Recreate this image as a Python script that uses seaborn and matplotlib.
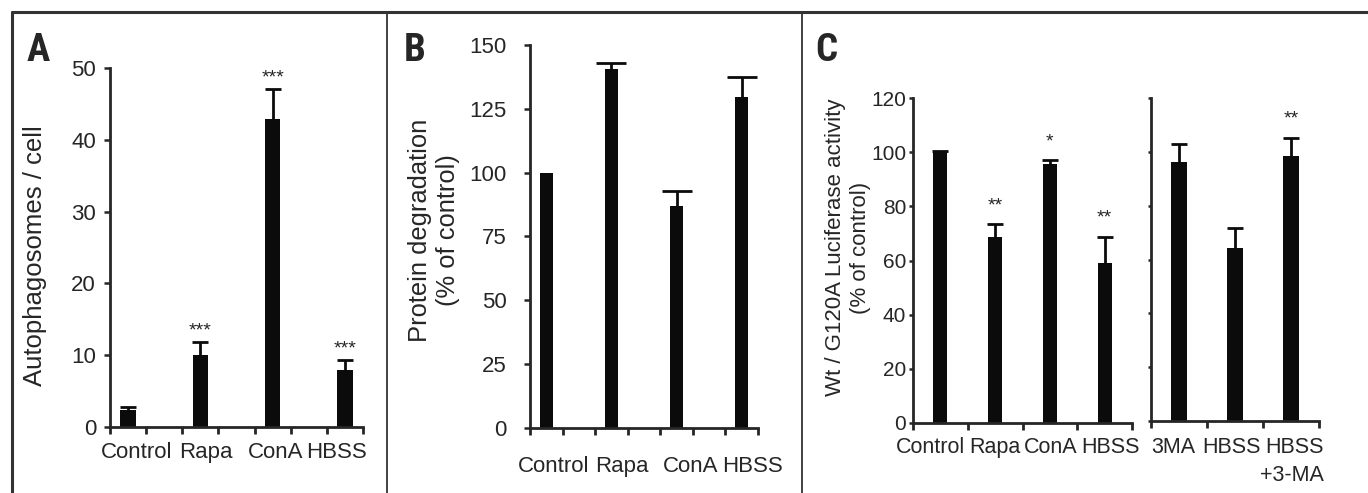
import os
import numpy as np
import pandas as pd
import matplotlib
matplotlib.use("Agg")
import matplotlib.pyplot as plt
from matplotlib import font_manager
from matplotlib.lines import Line2D
from matplotlib.ticker import FixedLocator
from matplotlib.transforms import blended_transform_factory, ScaledTranslation
import seaborn as sns

# Panel A: autophagosomes per cell
a_labels = ["Control", "Rapa", "ConA", "HBSS"]
a_values = [2.3, 10.0, 42.9, 8.0]
a_err = [0.5, 1.8, 4.2, 1.3]
a_stars = ["", "***", "***", "***"]

# Panel B: protein degradation
b_labels = ["Control", "Rapa", "ConA", "HBSS"]
b_values = [100.0, 140.5, 87.0, 129.5]
b_err = [0.0, 2.3, 5.9, 8.1]
b_stars = ["", "", "", ""]

# Panel C: luciferase activity
c1_labels = ["Control", "Rapa", "ConA", "HBSS"]
c1_values = [100.0, 68.6, 95.7, 59.0]
c1_err = [0.4, 4.9, 1.4, 9.8]
c1_stars = ["", "**", "*", "**"]

c2_labels = ["3MA", "HBSS", "HBSS\n+3-MA"]
c2_values = [96.1, 64.4, 98.3]
c2_err = [6.9, 7.4, 7.0]
c2_stars = ["", "", "**"]

sns.set_theme(style="ticks")
plt.rcParams["font.family"] = ["Liberation Sans", "DejaVu Sans"]
plt.rcParams["axes.linewidth"] = 2.0

BAR = "#0b0b0b"
W, H = 1368, 493

# narrow bold face for the panel letters, if one is installed
letter_font = font_manager.FontProperties(family="DejaVu Sans", weight="bold",
                                          stretch="condensed")
files = font_manager.findSystemFonts()
for key in ("LiberationSansNarrow-Bold.", "RobotoCondensed-Bold.",
            "DejaVuSansCondensed-Bold."):
    hits = [f for f in files if os.path.basename(f).startswith(key)]
    if hits:
        letter_font = font_manager.FontProperties(fname=hits[0])
        break

fig = plt.figure(figsize=(W / 100, H / 100), dpi=100)


def box(l, t, r, b):
    # pixel box -> figure fraction rect
    return [l / W, 1 - b / H, (r - l) / W, (b - t) / H]


def panel(ax, labels, values, err, stars, width, bounds, ylim, yticks,
          ypad, ysize, capsize=5.5, star_off=3, show_ylabels=True, ylen=4):
    df = pd.DataFrame({"group": labels, "value": values})
    sns.barplot(data=df, x="group", y="value", ax=ax, color=BAR,
                width=width, saturation=1, errorbar=None, linewidth=0)
    n = len(values)
    x = np.arange(n)
    err = np.array(err)
    m = err > 0
    eb = ax.errorbar(x[m], np.array(values)[m],
                     yerr=[np.zeros(m.sum()), err[m]],
                     fmt="none", ecolor=BAR, elinewidth=2.0, capsize=capsize,
                     capthick=2.0)
    # only the upper cap is shown
    eb.lines[1][0].set_visible(False)
    for xi, v, e, s in zip(x, values, err, stars):
        if s:
            ax.annotate(s, (xi, v + e), xytext=(0, star_off),
                        textcoords="offset points",
                        ha="center", va="bottom", fontsize=14)
    ax.set_xlim(bounds[0], bounds[-1])
    ax.set_ylim(*ylim)
    ax.set_yticks(yticks)
    if not show_ylabels:
        ax.set_yticklabels([])
    ax.set_xticks(x)
    ax.set_xticklabels([])
    ax.xaxis.set_minor_locator(FixedLocator(bounds))
    ax.tick_params(axis="x", which="major", length=0)
    ax.tick_params(axis="x", which="minor", length=5, width=2.0, direction="out")
    ax.tick_params(axis="y", length=ylen, width=1.8, pad=ypad, labelsize=ysize)
    ax.set_xlabel("")
    ax.set_ylabel("")
    sns.despine(ax=ax)


def xlabels(ax, labels, shifts, below, size, linespacing=1.2):
    # group names under the bars, cap tops `below` px under the axis
    base = blended_transform_factory(ax.transData, ax.transAxes)
    for i, (lab, dx) in enumerate(zip(labels, shifts)):
        tr = base + ScaledTranslation(dx / 100, -below / 100, fig.dpi_scale_trans)
        ax.text(i, 0, lab, transform=tr, ha="center", va="top",
                fontsize=size, multialignment="right", linespacing=linespacing)


# A
axA = fig.add_axes(box(110, 68, 363, 427))
panel(axA, a_labels, a_values, a_err, a_stars, 0.21,
      np.arange(-0.25, 3.26, 0.5), (0, 50), range(0, 51, 10), 6, 16,
      capsize=6, star_off=2)
xlabels(axA, a_labels, [9, 6, 3, -8], 15, 16)
axA.set_ylabel("Autophagosomes / cell", fontsize=18.5)
axA.yaxis.set_label_coords(-0.25, 0.478)

# B
axB = fig.add_axes(box(530, 45, 758, 428))
panel(axB, b_labels, b_values, b_err, b_stars, 0.20,
      np.arange(-0.25, 3.26, 0.5), (0, 150), range(0, 151, 25), 13, 16,
      capsize=11)
xlabels(axB, b_labels, [7, 10, 14, 11], 28, 16)
axB.set_ylabel("Protein degradation\n(% of control)", fontsize=18.4,
               linespacing=1.2)
axB.yaxis.set_label_coords(-0.307, 0.517)

# C
axC1 = fig.add_axes(box(913, 98, 1132, 423))
panel(axC1, c1_labels, c1_values, c1_err, c1_stars, 0.26,
      np.arange(-0.5, 3.6, 1.0), (0, 120), range(0, 121, 20), 2, 15,
      capsize=5.5, star_off=7, ylen=3)
xlabels(axC1, c1_labels, [-10, 0, 1, 6], 14, 15.5)
axC1.set_ylabel("Wt / G120A Luciferase activity\n(% of control)", fontsize=16,
                linespacing=1.3)
axC1.yaxis.set_label_coords(-0.19, 0.54)

axC2 = fig.add_axes(box(1151, 98, 1319, 421))
panel(axC2, c2_labels, c2_values, c2_err, c2_stars, 0.27,
      np.arange(-0.5, 2.6, 1.0), (0, 120), range(0, 121, 20), 2, 15,
      capsize=5.5, star_off=7, show_ylabels=False, ylen=2.5)
xlabels(axC2, c2_labels, [-6, -4, 1], 16, 15.5, linespacing=1.45)

# frame lines
lw_outer, lw_inner = 2.2, 1.3
fc = "#333333"
ytop = 1 - 11.5 / H
fig.add_artist(Line2D([11.5 / W, 1], [ytop, ytop],
                      transform=fig.transFigure, color=fc, lw=lw_outer))
fig.add_artist(Line2D([11.5 / W, 11.5 / W], [0, ytop],
                      transform=fig.transFigure, color=fc, lw=lw_outer))
for xd in (386.5, 802):
    fig.add_artist(Line2D([xd / W, xd / W], [0, ytop],
                          transform=fig.transFigure, color=fc, lw=lw_inner))

# panel letters
for lx, letter in ((27, "A"), (404, "B"), (815, "C")):
    fig.text(lx / W, 1 - 61 / H, letter, ha="left", va="baseline",
             fontproperties=letter_font, fontsize=28)

fig.savefig("out.png", dpi=100, facecolor="white")
